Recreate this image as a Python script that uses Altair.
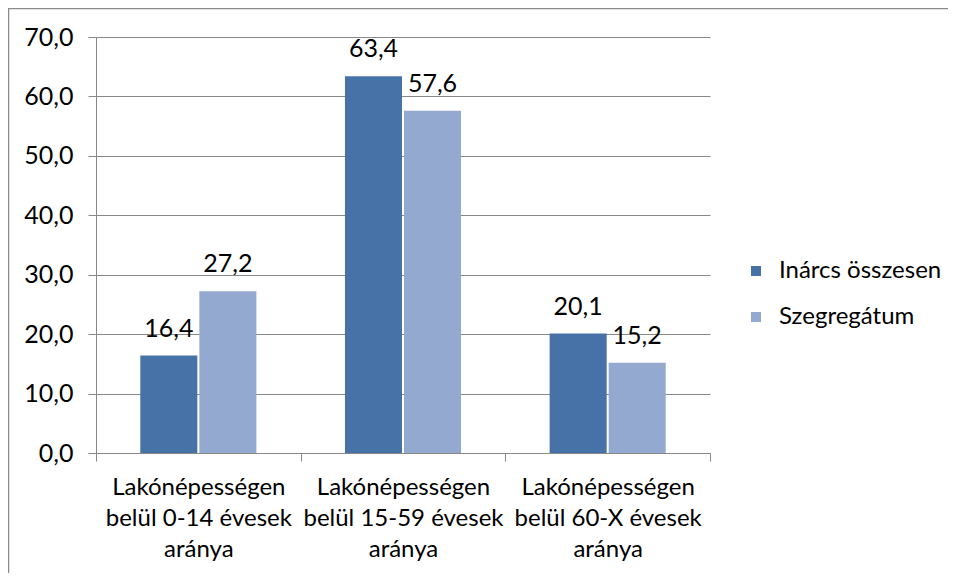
import altair as alt
import pandas as pd

categories = [
    "Lakónépességen belül 0-14 évesek aránya",
    "Lakónépességen belül 15-59 évesek aránya",
    "Lakónépességen belül 60-X évesek aránya",
]
series = ["Inárcs összesen", "Szegregátum"]
inarcs = [16.4, 63.4, 20.1]
szegregatum = [27.2, 57.6, 15.2]
colors = ["#4672A8", "#94A9D0"]
y_ticks = [0, 10, 20, 30, 40, 50, 60, 70]

rows = []
for i, c in enumerate(categories):
    rows.append({"cat": c, "series": series[0], "value": inarcs[i]})
    rows.append({"cat": c, "series": series[1], "value": szegregatum[i]})
df = pd.DataFrame(rows)

W, H = 614, 416
FONT = "Lato"
GRAY = "#888888"
FS = 25

label_expr = ("indexof(datum.label + '', ' ') < 0 ? '' : "
              "[split(datum.label,' ')[0], split(datum.label,' ')[1] + ' ' + "
              "split(datum.label,' ')[2] + ' ' + split(datum.label,' ')[3], split(datum.label,' ')[4]]")

x = alt.X("cat:N", sort=categories,
          scale=alt.Scale(paddingInner=0, paddingOuter=0),
          axis=alt.Axis(title=None, labelAngle=0, labelExpr=label_expr, labelFontSize=24,
                        labelFont=FONT, labelColor="black", labelLineHeight=31, labelPadding=14,
                        tickBand="extent", tickSize=8, tickColor=GRAY, domainColor=GRAY,
                        grid=False, labelLimit=400, labelBaseline="top"))
xo = alt.XOffset("series:N", sort=series,
                 scale=alt.Scale(paddingInner=0.034, paddingOuter=0.75))
y = alt.Y("value:Q", scale=alt.Scale(domain=[0, 70], nice=False),
          axis=alt.Axis(title=None, values=y_ticks,
                        labelExpr="replace(format(datum.value,'.1f'),'.',',')",
                        labelFontSize=FS, labelFont=FONT, labelColor="black", labelPadding=15,
                        tickSize=8, tickColor=GRAY, domainColor=GRAY, gridColor=GRAY,
                        grid=True))

color = alt.Color("series:N", sort=series,
                  scale=alt.Scale(domain=series, range=colors),
                  legend=alt.Legend(title=None, orient="none", legendX=648, legendY=222,
                                    symbolType="square", symbolSize=100, symbolStrokeWidth=0,
                                    labelFontSize=24, labelFont=FONT, labelColor="black",
                                    labelOffset=11, rowPadding=22, labelLimit=400))

bars = alt.Chart(df).mark_bar().encode(x=x, xOffset=xo, y=y, color=color)

texts = alt.Chart(df).transform_calculate(
    lbl="replace(format(datum.value,'.1f'),'.',',')"
).mark_text(baseline="alphabetic", dy=-19, fontSize=FS, font=FONT, color="black").encode(
    x=alt.X("cat:N", sort=categories), xOffset=alt.XOffset("series:N", sort=series),
    y="value:Q", text="lbl:N")

border = alt.Chart(pd.DataFrame({"a": [0]})).mark_rect(
    fillOpacity=0, stroke="#8A8A8A", strokeWidth=1.5, clip=False
).encode(x=alt.value(-87.5), x2=alt.value(W + 300), y=alt.value(-28.5), y2=alt.value(H + 200))

chart = alt.layer(border, bars, texts).properties(
    width=W, height=H,
    padding={"left": 88, "top": 29, "right": 238, "bottom": 120},
    autosize=alt.AutoSizeParams(type="none"),
).configure_view(stroke=None)

chart.save("out.html", embed_options={"renderer": "svg", "actions": False})
